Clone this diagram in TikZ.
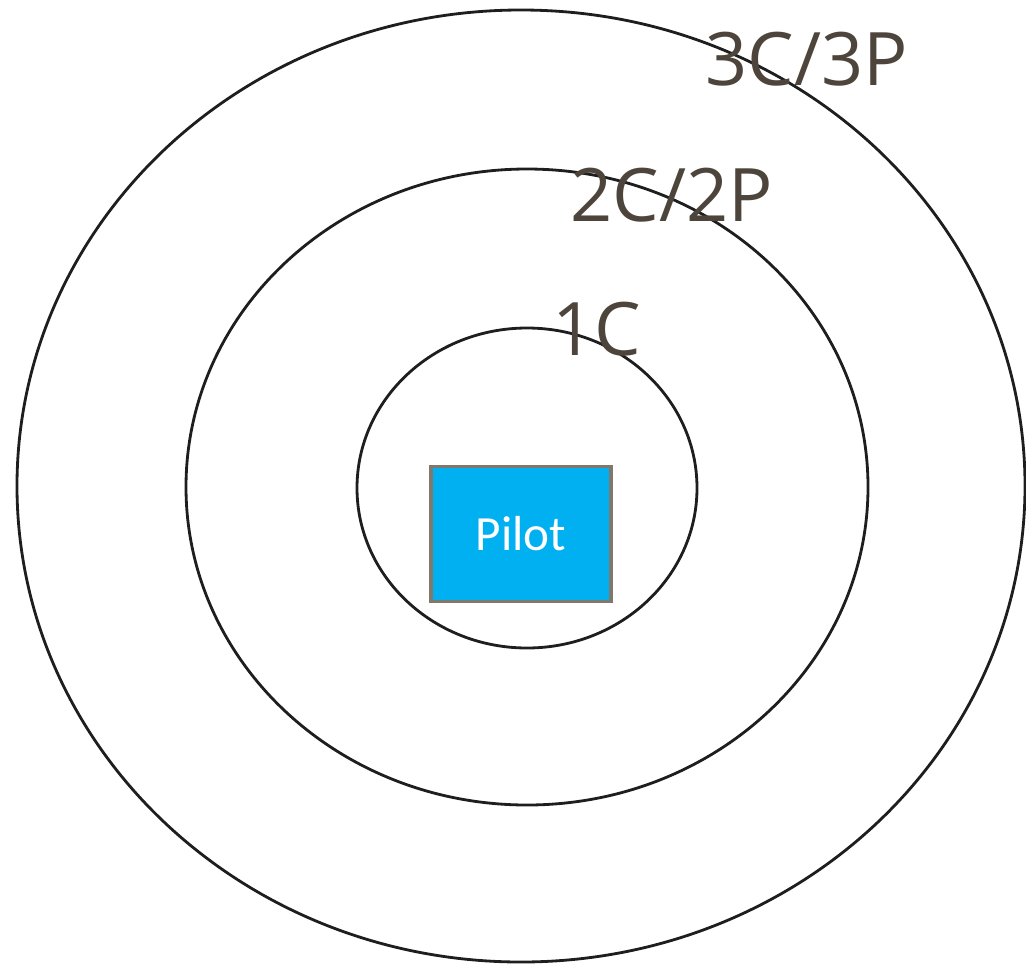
\documentclass[tikz,border=0pt]{standalone}
\usepackage{fontspec}
\setmainfont{Open Sans}
\newfontfamily\pilotfont{Carlito}
\definecolor{ringline}{RGB}{30,30,30}
\definecolor{labeltext}{RGB}{77,68,60}
\definecolor{pilotfill}{RGB}{0,176,240}
\definecolor{pilotedge}{RGB}{128,120,108}
\begin{document}
\begin{tikzpicture}[x=0.02cm,y=-0.02cm,
  ring/.style={draw=ringline, line width=1.6pt},
  ringlabel/.style={anchor=base, text=labeltext, inner sep=0pt,
    font=\fontsize{42}{48}\selectfont},
  pilotbox/.style={draw=pilotedge, fill=pilotfill, line width=2.2pt,
    minimum width=3.6cm, minimum height=2.7cm, text=white,
    font=\pilotfont\fontsize{28}{32}\selectfont}]
\useasboundingbox (0,0) rectangle (1026,967);
% rings
\draw[ring] (521,486) ellipse [x radius=504, y radius=-476];
\draw[ring] (527,487) ellipse [x radius=341, y radius=-318];
\draw[ring] (527,488) ellipse [x radius=170, y radius=-160];
% centre
\node[pilotbox] (pilot) at (521,534) {Pilot};
% labels
\node[ringlabel] (outer) at (807,85) {3C/3P};
\node[ringlabel] (middle) at (672,221) {2C/2P};
\node[ringlabel] (inner) at (597,355) {1C};
\end{tikzpicture}
\end{document}
